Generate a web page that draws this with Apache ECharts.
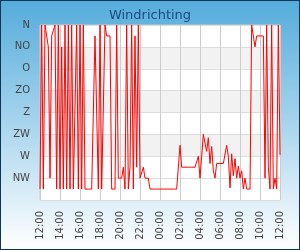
<!DOCTYPE html>
<html>
<head>
<meta charset="utf-8">
<script src="https://cdn.jsdelivr.net/npm/echarts@6/dist/echarts.min.js"></script>
<style>
  html, body { margin: 0; padding: 0; }
  #wrap {
    width: 300px; height: 250px; box-sizing: border-box;
    border: 1px solid #0d3656;
    background: linear-gradient(to bottom, #55acdb 0%, #a9d5ee 50%, #ffffff 100%);
  }
  #chart { width: 298px; height: 248px; }
</style>
</head>
<body>
<div id="wrap"><div id="chart"></div></div>
<script>
// windrichting in graden, elke 10 minuten van 12:00 tot 12:00
var startHour = 12;
var stepMinutes = 10;
var directionNames = ['N', 'NO', 'O', 'ZO', 'Z', 'ZW', 'W', 'NW', ''];
var degrees = [
  337.5, 0, 337.5, 0, 0, 45, 315, 22.5, 22.5, 0,
  337.5, 0, 337.5, 45, 337.5, 0, 337.5, 0, 337.5, 0,
  337.5, 337.5, 0, 337.5, 0, 337.5, 0, 337.5, 337.5, 337.5,
  337.5, 337.5, 337.5, 22.5, 22.5, 337.5, 0, 337.5, 337.5, 0,
  22.5, 22.5, 22.5, 337.5, 337.5, 337.5, 0, 315, 315, 315,
  292.5, 337.5, 0, 337.5, 292.5, 0, 337.5, 22.5, 292.5, 0,
  315, 315, 292.5, 315, 315, 315, 337.5, 337.5, 337.5, 337.5,
  337.5, 337.5, 337.5, 337.5, 337.5, 337.5, 337.5, 337.5, 337.5, 337.5,
  337.5, 337.5, 337.5, 337.5, 247.5, 292.5, 292.5, 292.5, 292.5, 292.5,
  292.5, 292.5, 292.5, 292.5, 292.5, 270, 315, 270, 225, 225,
  260, 232, 285, 250, 300, 315, 285, 285, 285, 285,
  285, 285, 247.5, 270, 335, 265, 310, 275, 315, 290,
  315, 300, 337.5, 315, 337.5, 337.5, 337.5, 0, 0, 45,
  22.5, 22.5, 22.5, 22.5, 22.5, 315, 0, 292.5, 337.5, 0,
  337.5, 315, 337.5, 0, 267
];

var times = [];
for (var i = 0; i < degrees.length; i++) {
  var m = startHour * 60 + i * stepMinutes;
  var h = Math.floor(m / 60) % 24, mm = m % 60;
  times.push((h < 10 ? '0' : '') + h + ':' + (mm < 10 ? '0' : '') + mm);
}

var myChart = echarts.init(document.getElementById('chart'), null, { renderer: 'canvas' });
var option = {
  animation: false,
  backgroundColor: 'transparent',
  textStyle: { fontFamily: 'DejaVu Sans' },
  title: {
    text: 'Windrichting',
    left: 'center',
    top: 3,
    textStyle: { color: '#1b4b7d', fontSize: 13, fontWeight: 'normal', fontFamily: 'DejaVu Sans' }
  },
  grid: {
    left: 39, right: 19, top: 24, bottom: 49,
    show: true, backgroundColor: '#fff', borderColor: '#cccccc', borderWidth: 1
  },
  xAxis: {
    type: 'category',
    data: times,
    boundaryGap: false,
    axisLine: { show: false },
    axisTick: { show: false },
    axisLabel: {
      interval: 11, rotate: 90, margin: 11,
      color: '#444', fontSize: 10, fontFamily: 'DejaVu Sans'
    },
    splitLine: { show: true, interval: 11, lineStyle: { color: '#cccccc', width: 1 } }
  },
  yAxis: {
    type: 'value',
    inverse: true,
    min: 0, max: 360, interval: 45,
    axisLine: { show: false },
    axisTick: { show: false },
    axisLabel: {
      margin: 10, color: '#444', fontSize: 10, fontFamily: 'DejaVu Sans',
      formatter: function (v) { return directionNames[Math.round(v / 45)]; }
    },
    splitLine: { lineStyle: { color: '#dddddd' } },
    splitArea: { show: true, areaStyle: { color: ['#ffffff', '#f2f2f2', '#ffffff', '#f2f2f2', '#ffffff', '#f2f2f2', '#ffffff', '#ffffff'] } }
  },
  series: [{
    name: 'Windrichting',
    type: 'line',
    data: degrees,
    showSymbol: false,
    lineStyle: { color: '#ff0000', width: 1 },
    itemStyle: { color: '#ff0000' }
  }]
};
myChart.setOption(option);
</script>
</body>
</html>
